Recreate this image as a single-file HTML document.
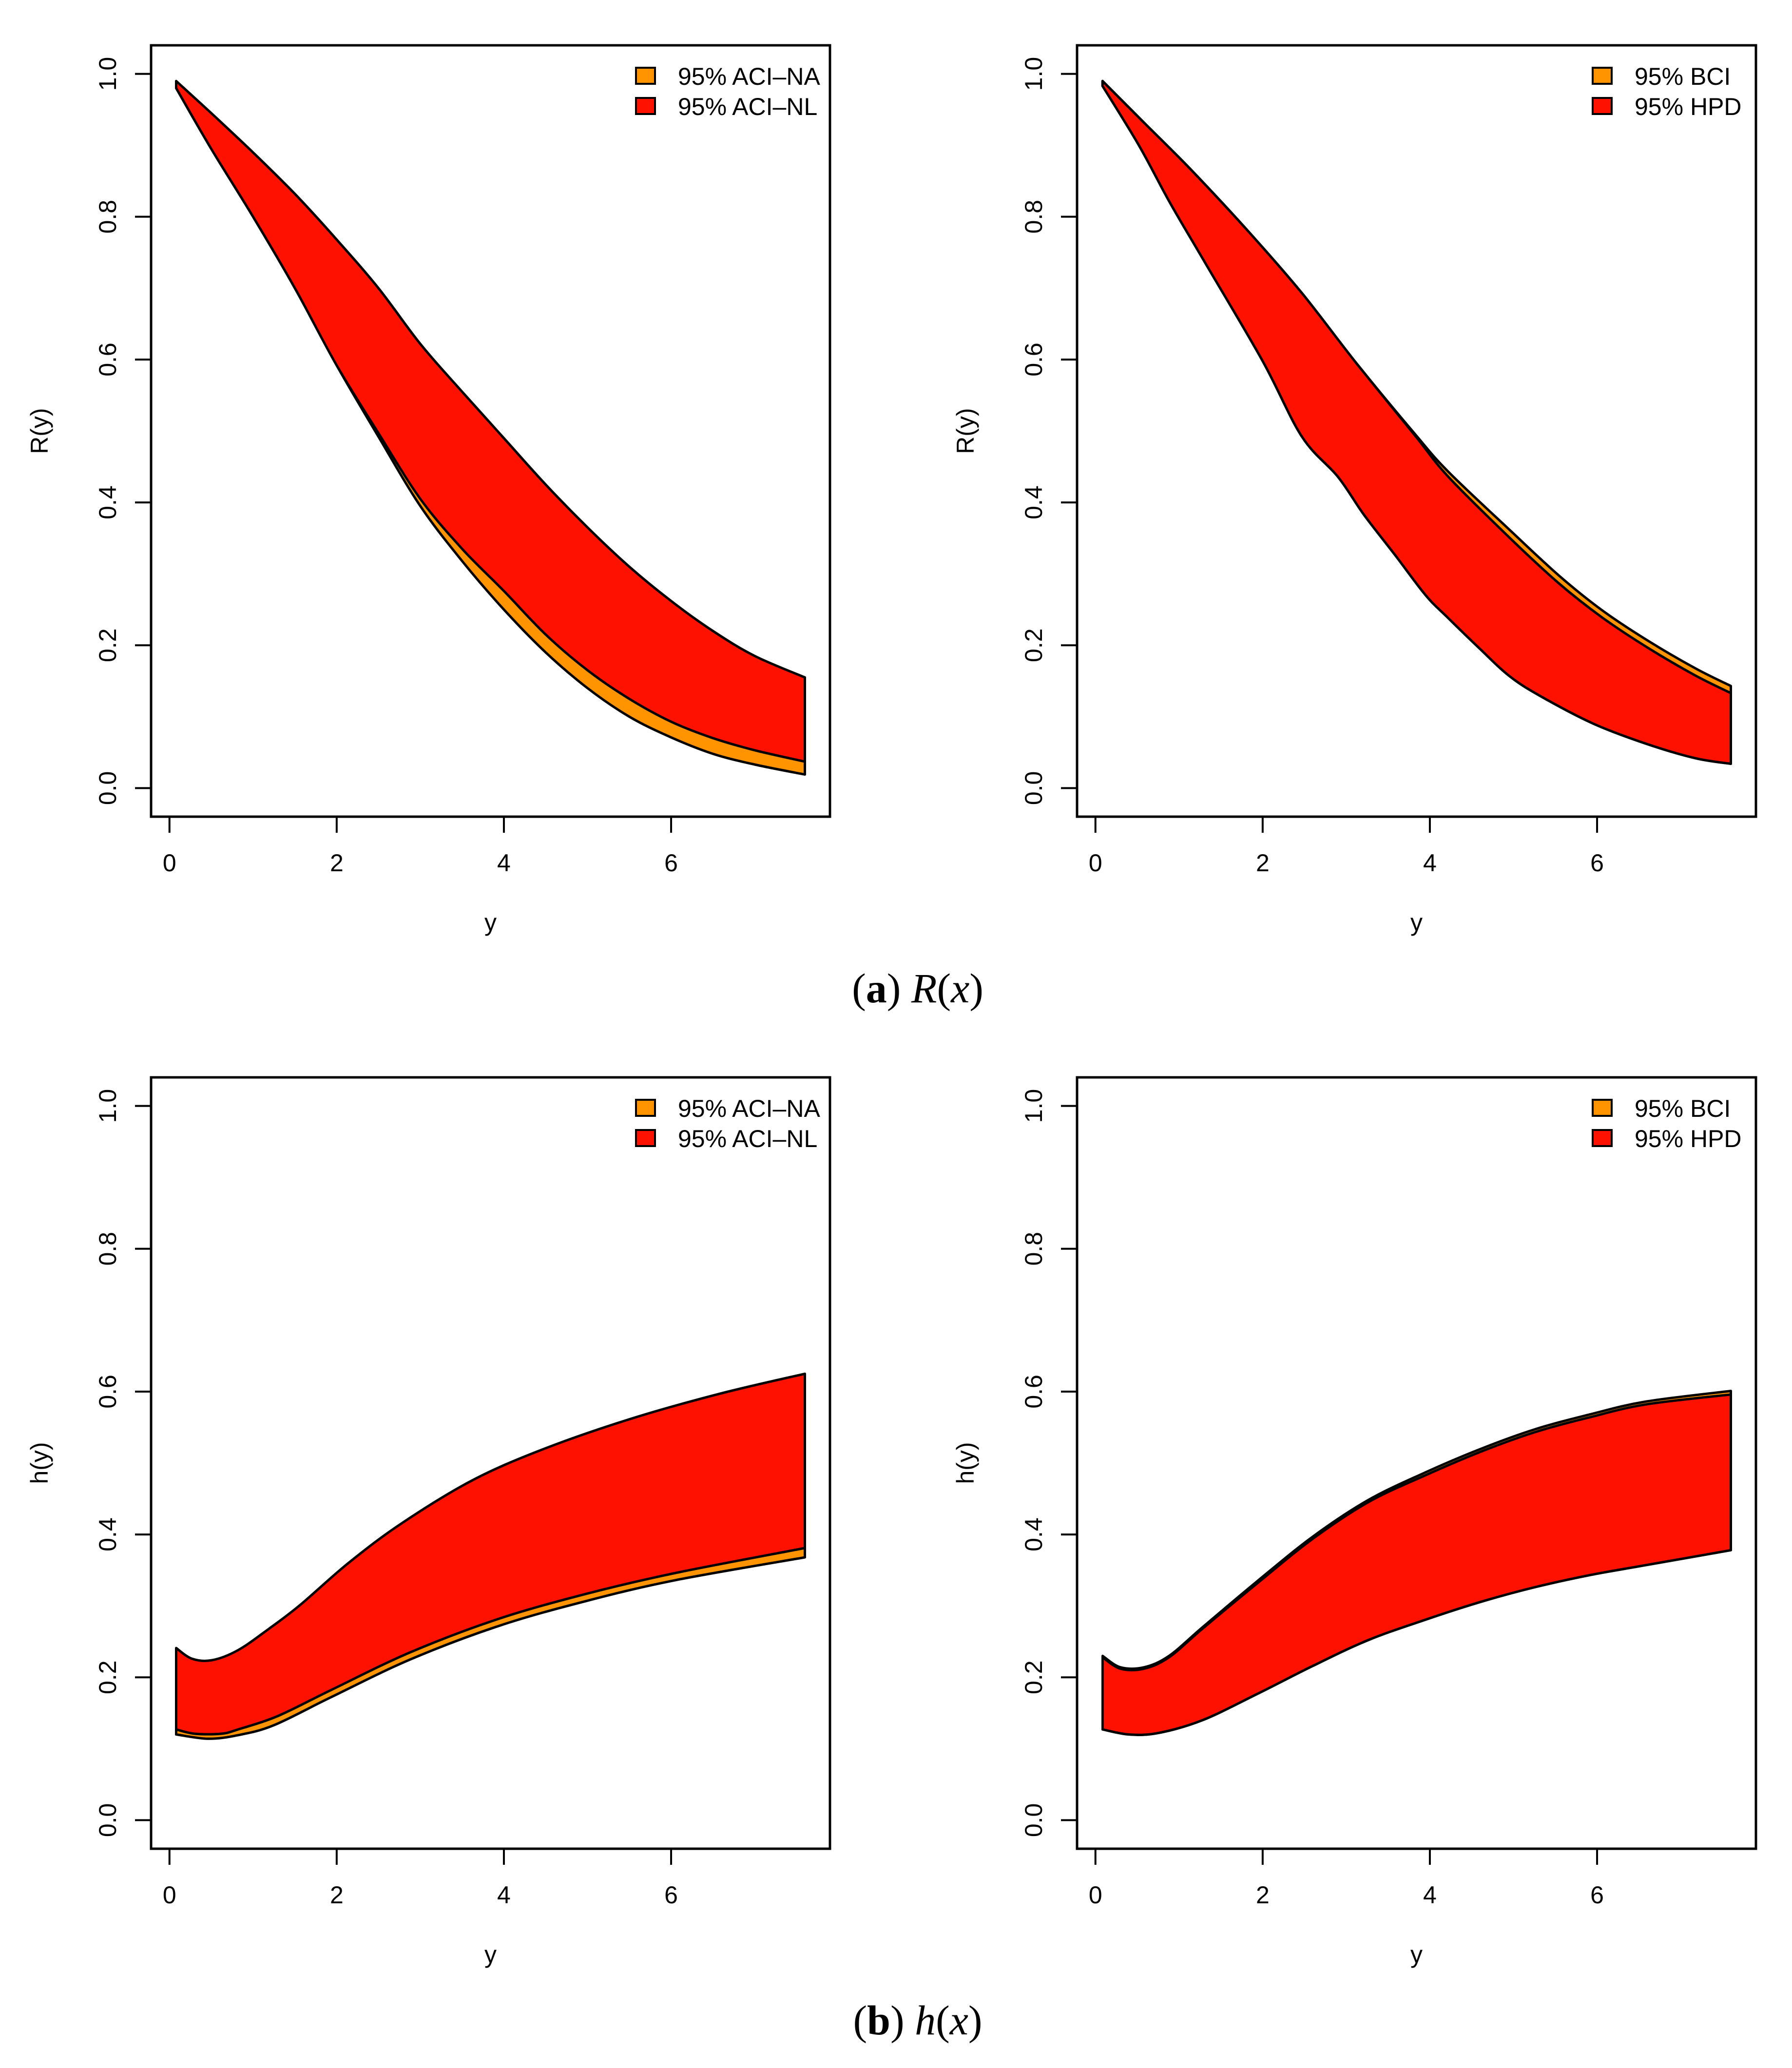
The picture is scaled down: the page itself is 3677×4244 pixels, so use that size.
<!DOCTYPE html>
<html><head><meta charset="utf-8">
<style>
html,body{margin:0;padding:0;background:#fff;}
svg{display:block;}
text{font-family:"Liberation Sans",Arial,sans-serif;}
.cap{font-family:"Liberation Serif","Times New Roman",serif;}
</style></head>
<body>
<svg id="fig" xmlns="http://www.w3.org/2000/svg" width="3677" height="4244" viewBox="0 0 3677 4244">
<text class="cap" x="1883" y="2057" text-anchor="middle" font-size="86">(<tspan font-weight="bold">a</tspan>) <tspan font-style="italic">R</tspan>(<tspan font-style="italic">x</tspan>)</text>
<text class="cap" x="1883" y="4175" text-anchor="middle" font-size="86">(<tspan font-weight="bold">b</tspan>) <tspan font-style="italic">h</tspan>(<tspan font-style="italic">x</tspan>)</text>
</svg>
<script>
// ---- Panel A-left: R(y), ACI-NA (orange) & ACI-NL (red)
const xA_NLup = [0.08,0.5,1,1.5,2,2.5,3,3.5,4,4.5,5,5.5,6,6.5,7,7.6];
const yA_NLup = [0.99,0.945,0.89,0.832,0.768,0.70,0.622,0.555,0.49,0.425,0.365,0.31,0.262,0.22,0.185,0.155];
const xA_NLlo = [0.08,0.5,1,1.5,2,2.5,3,3.5,4,4.5,5,5.5,6,6.5,7,7.6];
const yA_NLlo = [0.98,0.895,0.80,0.70,0.592,0.497,0.405,0.335,0.276,0.215,0.165,0.125,0.093,0.07,0.053,0.037];
const xA_NAlo = [0.08,0.5,1,1.5,2,2.5,3,3.5,4,4.5,5,5.5,6,6.5,7,7.6];
const yA_NAlo = [0.98,0.895,0.80,0.70,0.592,0.492,0.395,0.318,0.25,0.19,0.14,0.10,0.071,0.048,0.033,0.019];
// ---- Panel A-right: R(y), BCI (orange) & HPD (red)
const xB_up = [0.085,0.57,1.15,1.84,2.47,3.1,3.82,4.22,4.95,5.54,6.06,6.6,7.17,7.6];
const yB_BCIup = [0.99,0.933,0.865,0.778,0.693,0.598,0.496,0.443,0.362,0.298,0.249,0.207,0.168,0.143];
const yB_HPDup = [0.99,0.933,0.865,0.778,0.693,0.598,0.494,0.436,0.351,0.287,0.239,0.197,0.158,0.133];
const xB_lo = [0.085,0.52,0.89,1.31,2.0,2.47,2.9,3.21,3.58,3.95,4.22,4.59,4.95,5.32,5.96,6.59,7.17,7.6];
const yB_lo = [0.983,0.90,0.82,0.736,0.598,0.492,0.436,0.383,0.327,0.27,0.238,0.196,0.157,0.129,0.09,0.062,0.042,0.034];
// ---- Panel B-left: h(y), ACI-NA & ACI-NL
const xC_up = [0.08,0.27,0.51,0.82,1.19,1.56,2.14,2.77,3.61,4.46,5.52,6.58,7.6];
const yC_up = [0.241,0.226,0.224,0.238,0.268,0.301,0.36,0.415,0.475,0.519,0.562,0.597,0.625];
const xC_NLlo = [0.08,0.30,0.62,0.82,1.3,1.93,2.88,3.94,4.99,6.05,7.6];
const yC_NLlo = [0.127,0.121,0.121,0.127,0.146,0.182,0.235,0.282,0.317,0.346,0.381];
const xC_NAlo = [0.08,0.46,0.82,1.25,1.93,2.88,3.94,4.99,6.05,7.6];
const yC_NAlo = [0.12,0.114,0.119,0.133,0.172,0.225,0.272,0.307,0.336,0.368];
// ---- Panel B-right: h(y), BCI & HPD
const xD_up = [0.086,0.3,0.58,0.88,1.28,1.94,2.6,3.26,3.93,4.59,5.25,5.91,6.58,7.6];
const yD_BCIup = [0.23,0.214,0.214,0.23,0.27,0.335,0.397,0.448,0.486,0.519,0.547,0.568,0.586,0.601];
const yD_HPDup = [0.228,0.212,0.212,0.228,0.268,0.332,0.394,0.445,0.482,0.515,0.543,0.564,0.582,0.596];
const xD_lo = [0.086,0.4,0.75,1.28,1.94,2.6,3.26,3.93,4.59,5.25,5.91,6.58,7.6];
const yD_lo = [0.127,0.12,0.122,0.14,0.177,0.216,0.252,0.28,0.305,0.326,0.343,0.357,0.378];

const xTicks = [0,2,4,6];
const yTicks = [0,0.2,0.4,0.6,0.8,1.0];
const yTickLabels = ["0.0","0.2","0.4","0.6","0.8","1.0"];
const xTickLabels = ["0","2","4","6"];

const NS = "http://www.w3.org/2000/svg";
const svg = document.getElementById('fig');
const ORANGE = "#FF9400", RED = "#FF1100";

function mk(tag, attrs, parent){
  const e = document.createElementNS(NS, tag);
  for (const k in attrs) e.setAttribute(k, attrs[k]);
  parent.appendChild(e);
  return e;
}

// Catmull-Rom smoothed path through points (continuing an existing path)
function smooth(pts, start){
  let d = start ? 'M' + pts[0][0].toFixed(1) + ',' + pts[0][1].toFixed(1) : 'L' + pts[0][0].toFixed(1) + ',' + pts[0][1].toFixed(1);
  for (let i = 0; i < pts.length - 1; i++){
    const p0 = pts[Math.max(i - 1, 0)], p1 = pts[i], p2 = pts[i + 1], p3 = pts[Math.min(i + 2, pts.length - 1)];
    const c1x = p1[0] + (p2[0] - p0[0]) / 6, c1y = p1[1] + (p2[1] - p0[1]) / 6;
    const c2x = p2[0] - (p3[0] - p1[0]) / 6, c2y = p2[1] - (p3[1] - p1[1]) / 6;
    d += ' C' + c1x.toFixed(1) + ',' + c1y.toFixed(1) + ' ' + c2x.toFixed(1) + ',' + c2y.toFixed(1) + ' ' + p2[0].toFixed(1) + ',' + p2[1].toFixed(1);
  }
  return d;
}

function panel(px, py, yLabel, legendLabels, legendX, bands, name){
  const W = 1393, H = 1583;
  const xmin = -0.22, xmax = 7.9, ymin = -0.04, ymax = 1.04;
  const sx = v => px + (v - xmin) / (xmax - xmin) * W;
  const sy = v => py + H - (v - ymin) / (ymax - ymin) * H;
  const g = mk('g', {}, svg);
  
  

  bands.forEach(b => {
    const up = b.xu.map((x, i) => [sx(x), sy(b.yu[i])]);
    const lo = b.xl.map((x, i) => [sx(x), sy(b.yl[i])]).reverse();
    const d = smooth(up, true) + ' ' + smooth(lo, false) + ' Z';
    const p = mk('path', {d: d, fill: b.fill, stroke: '#000', 'stroke-width': 5, 'stroke-linejoin': 'round'}, g);
    
    
  });

  const box = mk('rect', {x: px, y: py, width: W, height: H, fill: 'none', stroke: '#000', 'stroke-width': 5}, g);
  
  

  yTicks.forEach((t, i) => {
    const y = sy(t);
    const tk = mk('line', {x1: px - 33, x2: px, y1: y, y2: y, stroke: '#000', 'stroke-width': 4}, g);
    
    
    const lb = mk('text', {x: 0, y: 0, 'font-size': 50, 'text-anchor': 'middle', transform: 'translate(' + (px - 72) + ',' + y.toFixed(1) + ') rotate(-90)'}, g);
    lb.textContent = yTickLabels[i];
    
    
  });
  xTicks.forEach((t, i) => {
    const x = sx(t);
    const tk = mk('line', {x1: x, x2: x, y1: py + H, y2: py + H + 33, stroke: '#000', 'stroke-width': 4}, g);
    
    
    const lb = mk('text', {x: x, y: py + H + 112, 'font-size': 50, 'text-anchor': 'middle'}, g);
    lb.textContent = xTickLabels[i];
    
    
  });
  const xt = mk('text', {x: px + W / 2, y: py + H + 234, 'font-size': 50, 'text-anchor': 'middle'}, g);
  xt.textContent = 'y';
  
  
  const yt = mk('text', {x: 0, y: 0, 'font-size': 50, 'text-anchor': 'middle', transform: 'translate(' + (px - 212) + ',' + (py + H / 2) + ') rotate(-90)'}, g);
  yt.textContent = yLabel;
  
  

  [ORANGE, RED].forEach((c, i) => {
    const ry = py + 46 + i * 62;
    const sq = mk('rect', {x: legendX, y: ry, width: 39, height: 33, fill: c, stroke: '#000', 'stroke-width': 4}, g);
    
    
    const tx = mk('text', {x: legendX + 86, y: ry + 35, 'font-size': 50}, g);
    tx.textContent = legendLabels[i];
    
    
  });
}

panel(310, 93, 'R(y)', ['95% ACI\u2013NA', '95% ACI\u2013NL'], 1305, [
  {xu: xA_NLup, yu: yA_NLup.map(v => v - 0.004), xl: xA_NAlo, yl: yA_NAlo, fill: ORANGE, name: 'band-aci-na'},
  {xu: xA_NLup, yu: yA_NLup, xl: xA_NLlo, yl: yA_NLlo, fill: RED, name: 'band-aci-nl'}
], 'panel-R-aci');

panel(2210, 93, 'R(y)', ['95% BCI', '95% HPD'], 3268, [
  {xu: xB_up, yu: yB_BCIup, xl: xB_lo, yl: yB_lo, fill: ORANGE, name: 'band-bci'},
  {xu: xB_up, yu: yB_HPDup, xl: xB_lo, yl: yB_lo, fill: RED, name: 'band-hpd'}
], 'panel-R-bayes');

panel(310, 2211, 'h(y)', ['95% ACI\u2013NA', '95% ACI\u2013NL'], 1305, [
  {xu: xC_up, yu: yC_up.map(v => v - 0.003), xl: xC_NAlo, yl: yC_NAlo, fill: ORANGE, name: 'band-aci-na'},
  {xu: xC_up, yu: yC_up, xl: xC_NLlo, yl: yC_NLlo, fill: RED, name: 'band-aci-nl'}
], 'panel-h-aci');

panel(2210, 2211, 'h(y)', ['95% BCI', '95% HPD'], 3268, [
  {xu: xD_up, yu: yD_BCIup, xl: xD_lo, yl: yD_lo, fill: ORANGE, name: 'band-bci'},
  {xu: xD_up, yu: yD_HPDup, xl: xD_lo, yl: yD_lo, fill: RED, name: 'band-hpd'}
], 'panel-h-bayes');
</script>
</body></html>
